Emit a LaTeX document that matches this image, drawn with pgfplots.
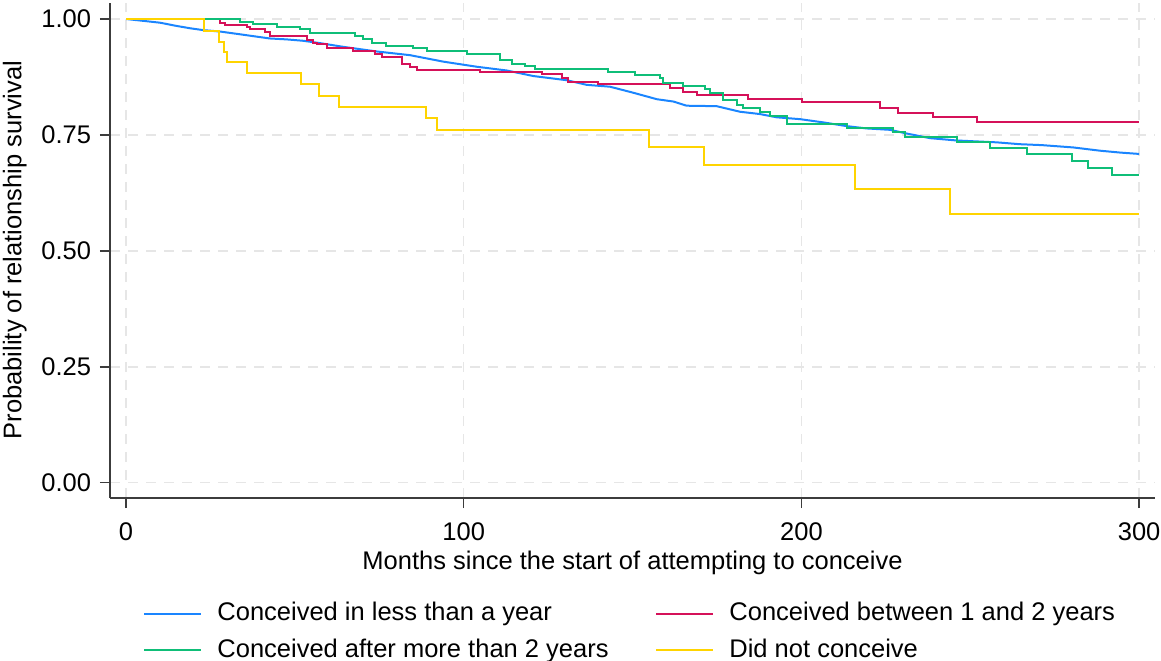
\documentclass[border=0pt]{standalone}
\usepackage{fontspec}
\setmainfont{Liberation Sans}
\usepackage{pgfplots}
\pgfplotsset{compat=1.18}
\definecolor{stcblue}{RGB}{26,133,255}
\definecolor{stcred}{RGB}{213,17,89}
\definecolor{stcgreen}{RGB}{15,190,120}
\definecolor{stcyellow}{RGB}{255,212,0}
\definecolor{gridgray}{RGB}{230,230,230}
\definecolor{axisgray}{RGB}{60,60,60}
\newcommand{\fs}{\fontsize{12.75}{15.3}\selectfont}
\begin{document}
\fs
\begin{tikzpicture}
\useasboundingbox (-55pt,-81pt) rectangle (525.5pt,249pt);
\begin{axis}[
  at={(0pt,0pt)}, anchor=south west,
  scale only axis, width=522.5pt, height=247.5pt,
  xmin=-4.74, xmax=304.7, ymin=-0.033, ymax=1.0345,
  axis x line*=bottom, axis y line*=left,
  axis line style={-, draw=axisgray, line width=0.75pt},
  xtick={0,100,200,300}, ytick={0,0.25,0.5,0.75,1},
  tick align=outside, major tick length=5pt,
  tick style={draw=axisgray, line width=0.75pt},
  minor tick num=0,
  grid=major,
  major grid style={draw=gridgray, dash pattern=on 5pt off 4pt, line width=0.75pt},
  scaled y ticks=false,
  yticklabel style={/pgf/number format/fixed, /pgf/number format/fixed zerofill, /pgf/number format/precision=2},
  xticklabel style={yshift=-3pt},
  /pgf/number format/assume math mode=true,
  ticklabel style={font=\fs},
  xlabel={Months since the start of attempting to conceive},
  ylabel={Probability of relationship survival},
  xlabel style={at={(axis description cs:0.5,-0.131)}, anchor=center, font=\fs},
  ylabel style={at={(axis description cs:-0.091,0.501)}, anchor=center, font=\fs},
  legend columns=2,
  legend cell align=left,
  legend style={at={(axis description cs:0.0316,-0.202)}, anchor=north west,
    draw=none, fill=none, inner sep=0pt, font=\fs, row sep=3pt,
    /tikz/every odd column/.append style={column sep=5.5pt},
    /tikz/column 2/.style={column sep=21.4pt}},
  legend image code/.code={\draw[#1] (0pt,0pt) -- (28.5pt,0pt);},
  every axis plot/.append style={line width=1pt},
]
% Conceived in less than a year
\addplot[stcblue] coordinates {
(0,1.000) (5.1,0.996) (10.1,0.992) (15.0,0.985) (19.0,0.980) (22.9,0.976)
(27.8,0.973) (32.8,0.968) (37.7,0.963) (42.6,0.958) (47.6,0.956) (52.5,0.953)
(57.4,0.948) (64.3,0.940) (74.2,0.930) (84.1,0.922) (94.0,0.908) (103.9,0.897)
(112.7,0.889) (120.6,0.877) (130.5,0.868) (136.4,0.858) (143.3,0.854) (150.2,0.841)
(157.2,0.827) (162.1,0.822) (166.0,0.813) (174.9,0.812) (181.8,0.800) (187.7,0.795)
(192.7,0.788) (199.6,0.784) (206.5,0.777) (213.4,0.769) (219.3,0.764) (226.2,0.761)
(231.2,0.753) (238.1,0.743) (246.0,0.738) (257.8,0.734) (264.7,0.730) (271.2,0.728)
(280.5,0.723) (288.4,0.716) (294.3,0.712) (300,0.709)
};
\addlegendentry{Conceived in less than a year}
% Conceived between 1 and 2 years
\addplot[stcred, const plot] coordinates {
(0,1.000) (27.8,0.991) (29.3,0.987) (35.7,0.983) (36.7,0.978) (41.2,0.971)
(42.6,0.963) (53.5,0.955) (55.5,0.949) (56.5,0.946) (59.4,0.937) (67.3,0.932)
(73.7,0.925) (75.7,0.919) (81.6,0.904) (84.1,0.897) (86.1,0.891) (104.8,0.886)
(123.1,0.881) (129.0,0.872) (131.0,0.865) (139.9,0.860) (161.1,0.851) (165.0,0.843)
(169.0,0.836) (184.3,0.827) (200.1,0.820) (223.3,0.809) (228.7,0.798) (239.1,0.788)
(251.9,0.777) (300,0.777)
};
\addlegendentry{Conceived between 1 and 2 years}
% Conceived after more than 2 years
\addplot[stcgreen, const plot] coordinates {
(0,1.000) (33.8,0.994) (37.7,0.989) (44.6,0.983) (51.5,0.978) (54.5,0.970)
(67.8,0.963) (70.3,0.956) (72.8,0.949) (77.0,0.942) (85.1,0.937) (89.0,0.930)
(100.9,0.925) (110.7,0.911) (114.2,0.903) (118.2,0.899) (121.1,0.892) (142.8,0.885)
(150.7,0.879) (158.1,0.872) (159.1,0.863) (165.0,0.855) (171.5,0.848) (172.9,0.841)
(176.9,0.825) (180.8,0.815) (182.8,0.807) (187.7,0.800) (190.7,0.791) (195.6,0.774)
(213.4,0.764) (227.2,0.757) (230.7,0.746) (246.0,0.735) (255.9,0.721) (266.7,0.709)
(280.0,0.694) (285.0,0.678) (291.9,0.664) (300,0.664)
};
\addlegendentry{Conceived after more than 2 years}
% Did not conceive
\addplot[stcyellow, const plot] coordinates {
(0,1.000) (23.1,0.975) (27.6,0.951) (29.0,0.929) (29.8,0.907) (35.7,0.884)
(51.9,0.859) (57.1,0.835) (63.0,0.811) (88.8,0.786) (92.0,0.761) (155.0,0.723)
(171.1,0.685) (216.0,0.633) (244.0,0.579) (300,0.579)
};
\addlegendentry{Did not conceive}
\end{axis}
\end{tikzpicture}
\end{document}
